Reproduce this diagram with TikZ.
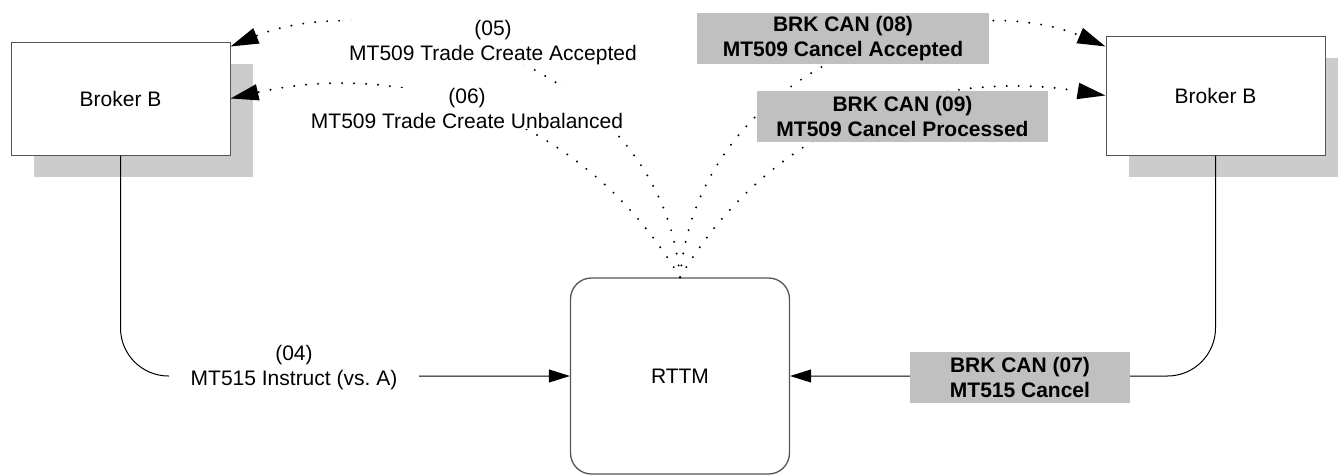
\documentclass[tikz,border=0pt]{standalone}
\usepackage{fontspec}
\setmainfont{Liberation Sans}
\usetikzlibrary{arrows.meta,shadows}
\definecolor{shgray}{RGB}{204,204,204}
\definecolor{lblgray}{RGB}{192,192,192}
\definecolor{edgegray}{RGB}{85,85,85}
\tikzset{
  broker/.style={draw=edgegray,fill=white,line width=1pt,minimum width=219pt,
    drop shadow={shadow xshift=23pt,shadow yshift=-22pt,fill=shgray,opacity=1}},
  center box/.style={draw=edgegray,line width=1.3pt,rounded corners=21pt,
    minimum width=219pt,minimum height=196pt},
  msg/.style={fill=white,align=center,inner xsep=8pt,inner ysep=0pt},
  canmsg/.style={fill=lblgray,align=center,font=\fontsize{21}{25}\selectfont\bfseries,
    minimum height=51pt,inner sep=0pt},
  dotline/.style={line width=2.2pt,line cap=round,dash pattern=on 0pt off 12pt},
  bigtip/.style={-{Triangle[length=28pt,width=16pt]}},
  smalltip/.style={-{Triangle[length=21pt,width=13pt]}}
}
\begin{document}
\fontsize{21}{25}\selectfont
\begin{tikzpicture}[x=1pt,y=-1pt]
    \useasboundingbox (0,0) rectangle (1338,474);
    \node [broker,minimum height=113pt] (lbrk) at (120.5,98.5) {Broker B};
    \node [broker,minimum height=119pt] (rbrk) at (1215.5,95.5) {Broker B};
    \node [center box] (rttm) at (680,376) {RTTM};
    \draw [smalltip,line width=1pt,rounded corners=48pt] (lbrk.south) |- (rttm.west);
    \draw [smalltip,line width=1pt,rounded corners=48pt] (rbrk.south) |- (rttm.east);
    \draw [dotline,bigtip] (rttm.north) .. controls (660,60) and (380,-15) .. ([yshift=-5pt]lbrk.north east); % 05
    \draw [dotline,bigtip] (rttm.north) .. controls (580,110) and (400,60) .. (lbrk.east); % 06
    \draw [dotline,bigtip] (rttm.north) .. controls (700,60) and (960,-15) .. ([yshift=-11pt]rbrk.north west); % 08
    \draw [dotline,bigtip] (rttm.north) .. controls (780,110) and (950,70) .. (rbrk.west); % 09
    \node [msg,inner xsep=22pt] (l04) at (294,367.5) {(04)\\MT515 Instruct (vs.\ A)};
    \node [msg] (l05) at (493,42.5) {(05)\\MT509 Trade Create Accepted};
    \node [msg] (l06) at (467,108.5) {(06)\\MT509 Trade Create Unbalanced};
    \node [canmsg,minimum width=220pt] (l07) at (1020,377) {BRK CAN (07)\\MT515 Cancel};
    \node [canmsg,minimum width=292pt] (l08) at (843,38.5) {BRK CAN (08)\\MT509 Cancel Accepted};
    \node [canmsg,minimum width=291pt] (l09) at (902.5,116) {BRK CAN (09)\\MT509 Cancel Processed};
\end{tikzpicture}
\end{document}
